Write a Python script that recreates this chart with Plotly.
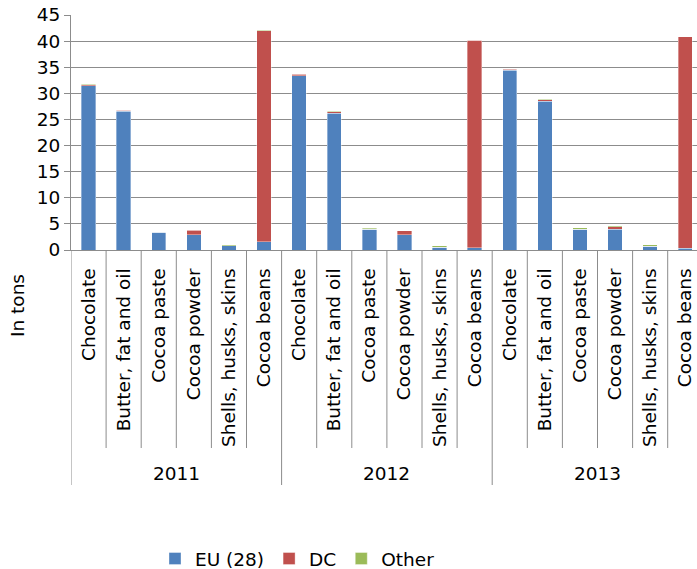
import plotly.graph_objects as go

years = ["2011", "2012", "2013"]
products = ["Chocolate", "Butter, fat and oil", "Cocoa paste", "Cocoa powder",
            "Shells, husks, skins", "Cocoa beans"]
labels = products * 3

eu = [31.5, 26.6, 3.4, 2.9, 0.8, 1.6,
      33.4, 26.2, 3.95, 2.9, 0.55, 0.45,
      34.4, 28.5, 4.0, 3.95, 0.7, 0.3]
dc = [0.15, 0.15, 0.02, 0.85, 0.02, 40.4,
      0.25, 0.3, 0.02, 0.75, 0.02, 39.7,
      0.2, 0.3, 0.02, 0.55, 0.02, 40.5]
other = [0.1, 0.05, 0.05, 0.1, 0.15, 0.1,
         0.1, 0.05, 0.2, 0.05, 0.2, 0.05,
         0.1, 0.05, 0.2, 0.1, 0.25, 0.05]

series = [("EU (28)", eu, "#4F81BD"), ("DC", dc, "#C0504D"), ("Other", other, "#9BBB59")]

FONT = "DejaVu Sans"
FS = 18.5
W, H = 697, 569
ML, MR, MT, MB = 71, 0, 15, 319
PH = H - MT - MB

xs = list(range(len(labels)))
fig = go.Figure()
for name, vals, col in series:
    fig.add_trace(go.Bar(x=xs, y=vals, name=name,
                         marker=dict(color=col, line=dict(width=0.6, color="rgba(255,255,255,0.6)"))))

def py(px):
    return (H - MB - px) / PH

shapes = []
n = len(labels)
for i in range(n + 1):
    xb = i - 0.5
    group = (i % len(products) == 0)
    shapes.append(dict(type="line", xref="x", yref="paper", x0=xb, x1=xb,
                       y0=py(250), y1=py(485 if group else 448),
                       line=dict(color="#8c8c8c", width=1)))

annotations = []
for g, yr in enumerate(years):
    annotations.append(dict(text=yr, xref="x", yref="paper",
                            x=g * len(products) + (len(products) - 1) / 2, y=py(473),
                            showarrow=False, font=dict(family=FONT, size=FS, color="black"),
                            xanchor="center", yanchor="middle"))
annotations.append(dict(text="In tons", xref="paper", yref="paper",
                        x=(17 - ML) / (W - ML - MR), y=py(306), textangle=-90,
                        showarrow=False, font=dict(family=FONT, size=FS, color="black"),
                        xanchor="center", yanchor="middle"))

fig.update_layout(
    width=W, height=H,
    margin=dict(l=ML, r=MR, t=MT, b=MB, autoexpand=False),
    barmode="stack", bargap=0.59,
    plot_bgcolor="white", paper_bgcolor="white",
    font=dict(family=FONT, size=FS, color="black"),
    shapes=shapes, annotations=annotations,
    legend=dict(orientation="h", x=(155 - ML) / (W - ML - MR), xanchor="left",
                y=py(559), yanchor="middle", font=dict(family=FONT, size=FS, color="black"),
                traceorder="normal"),
    xaxis=dict(range=[-0.5, -0.5 + (W - ML - MR) / 35.1], tickvals=xs, ticktext=labels,
               tickangle=-90, ticks="", showgrid=False, showline=True,
               linecolor="#8c8c8c", linewidth=1, ticklabelstandoff=10,
               tickfont=dict(family=FONT, size=FS, color="black"), zeroline=False),
    yaxis=dict(range=[0, 45], dtick=5, showgrid=True, gridcolor="#8c8c8c", gridwidth=1,
               showline=True, linecolor="#8c8c8c", linewidth=1, ticks="outside",
               ticklen=6, tickcolor="#8c8c8c", zeroline=False,
               tickfont=dict(family=FONT, size=FS, color="black")),
)

fig.write_html("out.html")
